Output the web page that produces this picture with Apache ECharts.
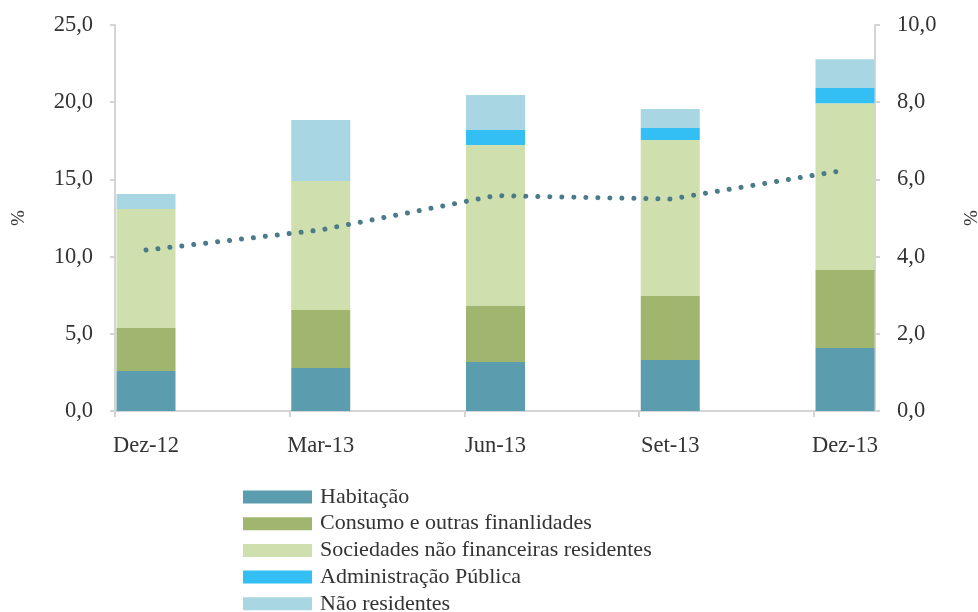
<!DOCTYPE html>
<html><head><meta charset="utf-8">
<script src="https://cdn.jsdelivr.net/npm/echarts@6/dist/echarts.min.js"></script>
<style>html,body{margin:0;padding:0;background:#fff}#c{width:978px;height:612px}</style>
</head><body><div id="c"></div>
<script>
const categories = ['Dez-12', 'Mar-13', 'Jun-13', 'Set-13', 'Dez-13'];
const habitacao = [2.59, 2.78, 3.17, 3.30, 4.08];
const consumo = [2.79, 3.76, 3.63, 4.15, 5.05];
const sociedades = [7.70, 8.36, 10.43, 10.10, 10.80];
const admPublica = [0, 0, 0.97, 0.78, 0.99];
const naoResidentes = [0.97, 3.95, 2.27, 1.23, 1.86];
const linha = [4.17, 4.69, 5.58, 5.49, 6.24];

const font = 'Liberation Serif';
const fmt = v => v.toFixed(1).replace('.', ',');
const axisColor = '#d4d4d4';
const txt = '#333';

const barSeries = [
  ['Habitação', habitacao, '#5b9dae'],
  ['Consumo e outras finanlidades', consumo, '#a0b66f'],
  ['Sociedades não financeiras residentes', sociedades, '#d0dfae'],
  ['Administração Pública', admPublica, '#33bff3'],
  ['Não residentes', naoResidentes, '#a8d6e2']
].map(([name, d, color]) => ({
  name, type: 'bar', stack: 's', data: d, barWidth: 59,
  itemStyle: { color }, xAxisIndex: 0, yAxisIndex: 0, z: 2
}));

const chart = echarts.init(document.getElementById('c'), null, { renderer: 'canvas' });
chart.setOption({
  animation: false,
  textStyle: { fontFamily: font },
  grid: [
    { left: 146, right: 133, top: 25, bottom: 201, outerBoundsMode: 'none', containLabel: false },
    { left: 115, right: 103, top: 25, bottom: 201, outerBoundsMode: 'none', containLabel: false }
  ],
  xAxis: [{
    type: 'category', data: categories, boundaryGap: false, gridIndex: 0,
    axisLine: { show: false }, axisTick: { show: false },
    axisLabel: { margin: 24, fontSize: 22.5, color: txt, fontFamily: font },
    splitLine: { show: false }
  }, {
    type: 'value', min: -0.175, max: 4.175, gridIndex: 1,
    axisLine: { show: true, onZero: false, lineStyle: { color: axisColor, width: 2 } },
    axisTick: { show: true, length: 6, lineStyle: { color: axisColor, width: 2 },
      customValues: categories.map((c, i) => i - 0.175) },
    axisLabel: { show: false },
    splitLine: { show: false }
  }],
  yAxis: [{
    type: 'value', min: 0, max: 25, interval: 5, position: 'left', offset: 31, gridIndex: 0,
    name: '%', nameLocation: 'middle', nameRotate: 90, nameGap: 86,
    nameTextStyle: { fontSize: 19, color: txt, fontFamily: font },
    axisLine: { show: true, onZero: false, lineStyle: { color: axisColor, width: 2 } },
    axisTick: { show: true, length: 5, lineStyle: { color: axisColor, width: 2 } },
    axisLabel: { formatter: fmt, margin: 22, fontSize: 22.5, color: txt, fontFamily: font },
    splitLine: { show: false }
  }, {
    type: 'value', min: 0, max: 10, interval: 2, position: 'right', offset: 30, gridIndex: 0,
    name: '%', nameLocation: 'middle', nameRotate: 90, nameGap: 88,
    nameTextStyle: { fontSize: 19, color: txt, fontFamily: font },
    axisLine: { show: true, onZero: false, lineStyle: { color: axisColor, width: 2 } },
    axisTick: { show: true, length: 5, lineStyle: { color: axisColor, width: 2 } },
    axisLabel: { formatter: fmt, margin: 22, fontSize: 22.5, color: txt, fontFamily: font },
    splitLine: { show: false }
  }, {
    type: 'value', min: 0, max: 25, gridIndex: 1, show: false
  }],
  legend: {
    orient: 'vertical', left: 243, top: 486, height: 200, padding: 0,
    itemWidth: 69, itemHeight: 13, itemGap: 4.7,
    icon: 'rect',
    data: barSeries.map(s => s.name),
    textStyle: { fontSize: 22, color: txt, fontFamily: font, lineHeight: 22, padding: [0, 0, 0, 3] }
  },
  series: [...barSeries, {
    name: 'linha', type: 'line', data: linha, yAxisIndex: 1, xAxisIndex: 0,
    showSymbol: false, smooth: false, z: 5,
    lineStyle: { color: '#4b7a88', width: 5, type: [0.01, 12], cap: 'round' }
  }]
});
</script></body></html>
